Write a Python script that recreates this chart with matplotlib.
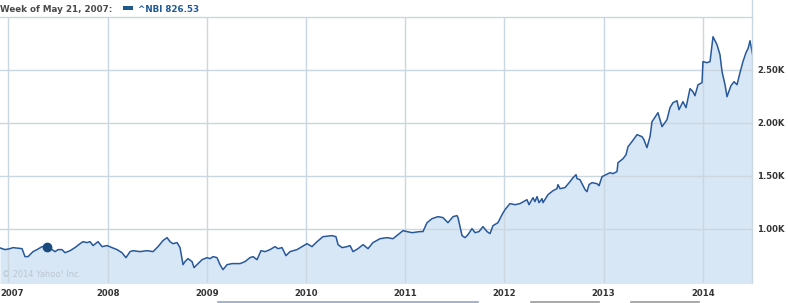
import matplotlib
matplotlib.use("Agg")
import matplotlib.pyplot as plt
from matplotlib.lines import Line2D
from matplotlib.patches import Rectangle

# ---- data (decimal year, index value) ----
years = [2006.915, 2006.966, 2007.016, 2007.046, 2007.137, 2007.167, 2007.198, 2007.248, 2007.288, 2007.339,
         2007.386, 2007.440, 2007.470, 2007.500, 2007.540, 2007.571, 2007.621, 2007.671, 2007.722, 2007.752,
         2007.792, 2007.823, 2007.853, 2007.903, 2007.944, 2007.994, 2008.044, 2008.095, 2008.145, 2008.185,
         2008.226, 2008.256, 2008.327, 2008.397, 2008.458, 2008.508, 2008.558, 2008.599, 2008.629, 2008.659,
         2008.700, 2008.730, 2008.760, 2008.780, 2008.810, 2008.851, 2008.871, 2008.901, 2008.952, 2009.002,
         2009.032, 2009.063, 2009.103, 2009.133, 2009.163, 2009.204, 2009.254, 2009.335, 2009.385, 2009.435,
         2009.466, 2009.506, 2009.546, 2009.587, 2009.637, 2009.687, 2009.718, 2009.758, 2009.798, 2009.839,
         2009.909, 2009.960, 2010.010, 2010.060, 2010.111, 2010.171, 2010.262, 2010.302, 2010.323, 2010.363,
         2010.413, 2010.444, 2010.474, 2010.524, 2010.575, 2010.625, 2010.675, 2010.746, 2010.817, 2010.877,
         2010.927, 2010.978, 2011.018, 2011.069, 2011.149, 2011.179, 2011.220, 2011.270, 2011.331, 2011.381,
         2011.431, 2011.482, 2011.522, 2011.532, 2011.573, 2011.603, 2011.633, 2011.673, 2011.704, 2011.744,
         2011.784, 2011.825, 2011.855, 2011.885, 2011.935, 2011.976, 2012.006, 2012.056, 2012.107, 2012.157,
         2012.228, 2012.248, 2012.288, 2012.308, 2012.329, 2012.349, 2012.379, 2012.389, 2012.440, 2012.490,
         2012.530, 2012.540, 2012.561, 2012.611, 2012.661, 2012.692, 2012.722, 2012.732, 2012.762, 2012.813,
         2012.833, 2012.853, 2012.883, 2012.934, 2012.954, 2012.984, 2013.024, 2013.065, 2013.095, 2013.135,
         2013.145, 2013.196, 2013.226, 2013.246, 2013.286, 2013.337, 2013.387, 2013.407, 2013.437, 2013.468,
         2013.488, 2013.548, 2013.589, 2013.639, 2013.669, 2013.699, 2013.740, 2013.760, 2013.800, 2013.831,
         2013.871, 2013.901, 2013.921, 2013.952, 2013.992, 2014.002, 2014.042, 2014.073, 2014.103, 2014.143,
         2014.173, 2014.194, 2014.224, 2014.244, 2014.284, 2014.315, 2014.345, 2014.375, 2014.405, 2014.435,
         2014.456, 2014.476, 2014.506]
values = [821, 805, 814, 824, 814, 739, 739, 786, 805, 833,
          826.53, 805, 786, 805, 805, 776, 795, 824, 861, 880,
          871, 880, 843, 880, 833, 843, 824, 805, 776, 729,
          786, 795, 786, 795, 786, 833, 890, 918, 880, 861,
          871, 824, 663, 692, 720, 692, 635, 663, 710, 729,
          720, 739, 729, 663, 616, 663, 673, 673, 692, 729,
          739, 710, 795, 786, 805, 833, 814, 824, 748, 786,
          805, 833, 861, 833, 880, 927, 937, 927, 852, 824,
          833, 843, 786, 814, 852, 814, 871, 908, 918, 908,
          946, 984, 975, 965, 975, 975, 1059, 1097, 1116, 1107,
          1059, 1116, 1126, 1107, 937, 918, 946, 1003, 965, 975,
          1022, 975, 956, 1031, 1059, 1135, 1182, 1239, 1229, 1239,
          1276, 1229, 1295, 1258, 1305, 1248, 1286, 1248, 1324, 1361,
          1380, 1418, 1380, 1390, 1446, 1484, 1512, 1475, 1465, 1371,
          1352, 1418, 1437, 1427, 1408, 1493, 1512, 1531, 1522, 1541,
          1625, 1663, 1701, 1776, 1824, 1890, 1871, 1842, 1767, 1871,
          2012, 2097, 1965, 2031, 2144, 2191, 2210, 2125, 2201, 2144,
          2324, 2295, 2257, 2361, 2380, 2579, 2569, 2579, 2814, 2739,
          2645, 2484, 2361, 2248, 2352, 2389, 2361, 2475, 2579, 2663,
          2701, 2776, 2625]

highlight_year = 2007.386
highlight_value = 826.53
header_label = "Week of May 21, 2007:"
series_label = "^NBI 826.53"

xtick_years = [2007, 2008, 2009, 2010, 2011, 2012, 2013, 2014]
xtick_labels = ["2007", "2008", "2009", "2010", "2011", "2012", "2013", "2014"]
ytick_values = [1000, 1500, 2000, 2500]
ytick_labels = ["1.00K", "1.50K", "2.00K", "2.50K"]

# ---- styling ----
W, H = 788, 303
LINE_C = "#27589a"
FILL_C = "#d8e7f6"
GRID_C = "#cbd7e0"
TEXT_C = "#333333"
BLUE_T = "#1f5a97"

fig = plt.figure(figsize=(W / 100, H / 100), dpi=100)
fig.patch.set_facecolor("white")

ax_left, ax_right, ax_top, ax_bottom = 0, 752, 17, 283
ax = fig.add_axes([ax_left / W, (H - ax_bottom) / H,
                   (ax_right - ax_left) / W, (ax_bottom - ax_top) / H])
ax.set_facecolor("white")

ax.fill_between(years, values, 0, color=FILL_C, lw=0, zorder=1)
ax.plot(years, values, color=LINE_C, lw=1.1, zorder=3, solid_joinstyle="round")
ax.plot([highlight_year], [highlight_value], "o", color="#1b4a7c", ms=6, zorder=4)

ax.set_xlim(2006.915, 2014.496)
ax.set_ylim(490, 3000)

ax.set_axisbelow(False)
ax.set_xticks(xtick_years)
ax.set_xticklabels([""] + xtick_labels[1:])
ax.set_yticks(ytick_values)
ax.set_yticklabels(ytick_labels)
ax.yaxis.tick_right()
ax.grid(True, color=GRID_C, lw=1, zorder=2)
ax.tick_params(length=0, labelsize=6.1, labelcolor=TEXT_C)
ax.tick_params(axis="x", pad=4.2)
ax.tick_params(axis="y", pad=3.6)
for lab in ax.get_xticklabels() + ax.get_yticklabels():
    lab.set_fontweight("bold")

# first year label clamped to left edge
ax.text(0, -0.0225, xtick_labels[0], transform=ax.transAxes, ha="left", va="top",
        fontsize=6.1, fontweight="bold", color=TEXT_C)

for s in ["left", "bottom", "right"]:
    ax.spines[s].set_visible(False)
ax.spines["top"].set_color(GRID_C)
ax.spines["top"].set_linewidth(1)

# right border line running to top of figure
fig.add_artist(Line2D([752 / W, 752 / W], [1.0, (H - 283) / H], transform=fig.transFigure,
                      color=GRID_C, lw=1))

# watermark
ax.text(2 / 752, (283 - 274.5) / 266, "\u00a9 2014 Yahoo! Inc.", transform=ax.transAxes,
        fontsize=5.9, color="#bcc5ce", ha="left", va="center", zorder=5)

# header
fig.text(0 / W, 1 - 12 / H, header_label, fontsize=6.3, fontweight="bold", color="#4a4a4a",
         ha="left", va="baseline")
fig.add_artist(Rectangle((123 / W, 1 - 9.5 / H), 10 / W, 3.5 / H, transform=fig.transFigure,
                         color="#1f5a8f", lw=0))
fig.text(138 / W, 1 - 12 / H, series_label, fontsize=6.3, fontweight="bold", color=BLUE_T,
         ha="left", va="baseline")

# navigator remnants at bottom
for (x0, x1, c) in [(218, 478, "#93a5c3"), (531, 599, "#9a9a9a"), (631, 699, "#9a9a9a")]:
    fig.add_artist(Line2D([x0 / W, x1 / W], [1 - 301.5 / H, 1 - 301.5 / H],
                          transform=fig.transFigure, color=c, lw=1.2))

fig.savefig("out.png", dpi=100, facecolor="white")
